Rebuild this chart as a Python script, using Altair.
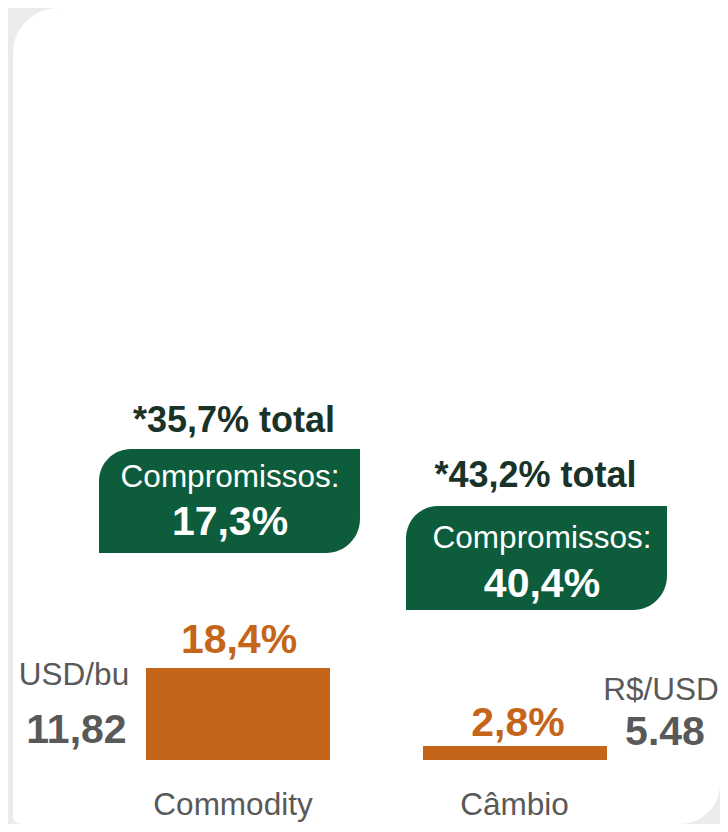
import altair as alt
import pandas as pd

# ---- data -------------------------------------------------------------
categories = ["Commodity", "Câmbio"]
variation = [18.4, 2.8]          # orange bars (%)
commitments = [17.3, 40.4]       # "Compromissos:" (%)
totals = [35.7, 43.2]            # "*xx,x% total"
units = ["USD/bu", "R$/USD"]
prices = ["11,82", "5.48"]
commit_title = "Compromissos:"


def br(v):
    return f"{v:.1f}".replace(".", ",") + "%"


df = pd.DataFrame({
    "category": categories,
    "variation": variation,
    "commitments": commitments,
    "total": totals,
    "unit": units,
    "price": prices,
    "variation_label": [br(v) for v in variation],
    "commit_label": [br(v) for v in commitments],
    "total_label": ["*" + br(v) + " total" for v in totals],
    "commit_title": [commit_title] * len(categories),
})

# ---- layout / style ---------------------------------------------------
W, H = 712, 816
FONT = "Liberation Sans"
ORANGE = "#C4651A"
GREEN = "#0D5C3B"
DARK = "#1A3328"
GRAY = "#595959"
CARD_BG = "#EBEBEB"
REG = 31.5
BIG = 41
TOT = 36

# per-category annotation placement (box in y units, offsets in px)
LAYOUT = {
    "Commodity": dict(box_top=62.2, box_bottom=41.4, box_dx=-8.5, head_dx=-8, head_dy=38,
                      val_dy=86, tot_dx=-4, tot_dy=-17, lab_dx=1, lab_dy=-15,
                      cat_dx=-5, unit_dx=-164, unit_dy=-75, price_dx=-161.5, price_dy=-17),
    "Câmbio": dict(box_top=50.8, box_bottom=30.0, box_dx=21.5, head_dx=27, head_dy=42,
                   val_dy=91, tot_dx=20.5, tot_dy=-19, lab_dx=3, lab_dy=-10.5,
                   cat_dx=-0.5, unit_dx=146, unit_dy=-60, price_dx=150, price_dy=-15),
}

X = alt.X("category:N", sort=categories,
          scale=alt.Scale(domain=categories, range=[138, 599],
                          paddingInner=0.3357, paddingOuter=0),
          axis=None)
Y_SCALE = alt.Scale(domain=[0, 150], range=[752, 2])


def ydatum(v):
    return alt.YDatum(v, type="quantitative", scale=Y_SCALE, axis=None)


card = alt.Chart(pd.DataFrame({"k": [0]})).mark_rect(
    fill="white", cornerRadiusTopLeft=45, cornerRadiusBottomRight=40,
    cornerRadiusBottomLeft=8,
).encode(x=alt.value(5), x2=alt.value(W), y=alt.value(0), y2=alt.value(H))

bars = alt.Chart(df).mark_bar(color=ORANGE).encode(
    x=X,
    y=alt.Y("variation:Q", scale=Y_SCALE, axis=None),
    y2=alt.datum(0),
)

layers = [card, bars]
for cat in categories:
    L = LAYOUT[cat]
    src = alt.Chart(df).transform_filter(alt.datum.category == cat)

    def txt(**kw):
        return src.mark_text(font=FONT, baseline="alphabetic", align="center", **kw)

    box = src.mark_bar(
        color=GREEN, width=261, xOffset=L["box_dx"],
        cornerRadiusTopLeft=32, cornerRadiusBottomRight=34,
    ).encode(x=X, y=ydatum(L["box_top"]), y2=alt.datum(L["box_bottom"]))

    head = txt(fontSize=REG, color="white", dx=L["head_dx"], dy=L["head_dy"]).encode(
        x=X, y=ydatum(L["box_top"]), text="commit_title:N")
    val = txt(fontSize=BIG, fontWeight="bold", color="white", dx=L["head_dx"],
              dy=L["val_dy"]).encode(x=X, y=ydatum(L["box_top"]), text="commit_label:N")
    tot = txt(fontSize=TOT, fontWeight="bold", color=DARK, dx=L["tot_dx"],
              dy=L["tot_dy"]).encode(x=X, y=ydatum(L["box_top"]), text="total_label:N")

    lab = txt(fontSize=BIG, fontWeight="bold", color=ORANGE, dx=L["lab_dx"],
              dy=L["lab_dy"]).encode(
        x=X, y=alt.Y("variation:Q", scale=Y_SCALE, axis=None), text="variation_label:N")

    catlab = txt(fontSize=REG, color=GRAY, dx=L["cat_dx"], dy=55).encode(
        x=X, y=ydatum(0), text="category:N")
    unit = txt(fontSize=REG, color=GRAY, dx=L["unit_dx"], dy=L["unit_dy"]).encode(
        x=X, y=ydatum(0), text="unit:N")
    price = txt(fontSize=BIG, fontWeight="bold", color=GRAY, dx=L["price_dx"],
                dy=L["price_dy"]).encode(x=X, y=ydatum(0), text="price:N")

    layers += [box, head, val, tot, lab, catlab, unit, price]

chart = alt.layer(*layers).properties(
    width=W, height=H, background=CARD_BG, padding=0,
    autosize=alt.AutoSizeParams(type="none"),
).configure_view(stroke=None)

chart.save("out.html", embed_options={"renderer": "svg", "actions": False})
